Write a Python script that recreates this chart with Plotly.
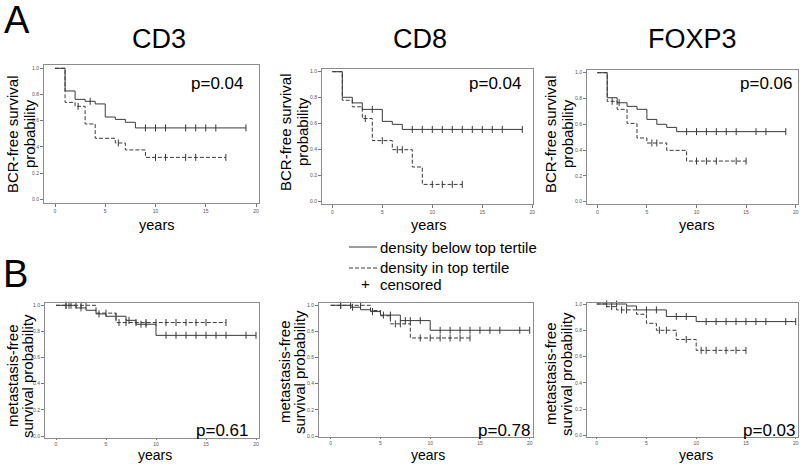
import plotly.graph_objects as go

# ---------------- data ----------------
panel_titles = ["CD3", "CD8", "FOXP3"]
p_values = ["p=0.04", "p=0.04", "p=0.06", "p=0.61", "p=0.78", "p=0.03"]

# BCR-free survival (row A)
cd3_bcr_low_t = [1, 2, 3, 4, 5, 6, 7, 8]
cd3_bcr_low_s = [0.827, 0.763, 0.748, 0.728, 0.628, 0.61, 0.588, 0.545]
cd3_bcr_low_end = 19
cd3_bcr_low_cens = [3.5, 9, 10, 11, 13, 14, 15, 16, 19]
cd3_bcr_high_t = [1, 2, 3, 4, 6, 7, 9]
cd3_bcr_high_s = [0.74, 0.71, 0.575, 0.466, 0.43, 0.377, 0.32]
cd3_bcr_high_end = 17
cd3_bcr_high_cens = [2.3, 6.3, 10, 11, 13, 14, 17]

cd8_bcr_low_t = [1, 2, 3, 5, 6, 7]
cd8_bcr_low_s = [0.803, 0.76, 0.71, 0.618, 0.595, 0.556]
cd8_bcr_low_end = 19
cd8_bcr_low_cens = [4, 8, 9, 10, 11, 12, 13, 14, 15, 16, 17, 19]
cd8_bcr_high_t = [1, 2, 3, 4, 6, 8, 9]
cd8_bcr_high_s = [0.78, 0.73, 0.64, 0.47, 0.40, 0.267, 0.133]
cd8_bcr_high_end = 13
cd8_bcr_high_cens = [3.3, 5, 6.5, 7, 10, 11, 12, 13]

foxp3_bcr_low_t = [1, 2, 3, 4, 5, 6, 7, 8]
foxp3_bcr_low_s = [0.806, 0.767, 0.739, 0.716, 0.638, 0.6, 0.576, 0.543]
foxp3_bcr_low_end = 19
foxp3_bcr_low_cens = [2.2, 9, 10, 11, 12, 13, 14, 16, 17, 19]
foxp3_bcr_high_t = [1, 2, 3, 4, 5, 7, 9]
foxp3_bcr_high_s = [0.778, 0.716, 0.607, 0.494, 0.455, 0.398, 0.315]
foxp3_bcr_high_end = 15
foxp3_bcr_high_cens = [1.5, 5.5, 6, 10, 11, 12, 14, 15]

# metastasis-free survival (row B)
cd3_met_low_t = [2, 3, 4, 5, 7, 8, 10]
cd3_met_low_s = [0.98, 0.962, 0.934, 0.916, 0.885, 0.855, 0.77]
cd3_met_low_end = 20
cd3_met_low_cens = [1, 1.3, 2.5, 4.3, 6, 7.3, 8.5, 9, 11, 12, 13, 14, 15, 16, 17, 19, 20]
cd3_met_high_t = [4, 6]
cd3_met_high_s = [0.94, 0.868]
cd3_met_high_end = 17
cd3_met_high_cens = [1, 1.5, 2, 2.5, 3, 5, 6.3, 7, 8, 9, 10, 11, 12, 13, 14, 15, 17]

cd8_met_low_t = [2, 3, 4, 5, 7, 10]
cd8_met_low_s = [0.985, 0.966, 0.952, 0.925, 0.883, 0.809]
cd8_met_low_end = 20
cd8_met_low_cens = [1, 2.2, 4.2, 5.3, 6, 7.5, 8, 9, 11, 12, 13, 14, 15, 16, 17, 19, 20]
cd8_met_high_t = [4, 5, 6, 8]
cd8_met_high_s = [0.96, 0.92, 0.858, 0.75]
cd8_met_high_end = 14
cd8_met_high_cens = [1, 2, 3, 6.5, 7, 9, 10, 11, 12, 13, 14]

foxp3_met_low_t = [3, 4, 7, 10]
foxp3_met_low_s = [0.985, 0.955, 0.905, 0.866]
foxp3_met_low_end = 20
foxp3_met_low_cens = [1, 2, 5, 6, 8, 9, 11, 12, 13, 14, 15, 16, 17, 19, 20]
foxp3_met_high_t = [1, 2, 4, 5, 6, 8, 10]
foxp3_met_high_s = [0.98, 0.955, 0.922, 0.853, 0.80, 0.73, 0.647]
foxp3_met_high_end = 15
foxp3_met_high_cens = [1.5, 2.5, 3, 6.3, 7, 9, 10.5, 11, 12, 13, 14, 15]

x_ticks = [0, 5, 10, 15, 20]
y_ticks = [0.0, 0.2, 0.4, 0.6, 0.8, 1.0]

panels_data = [
    (cd3_bcr_low_t, cd3_bcr_low_s, cd3_bcr_low_end, cd3_bcr_low_cens,
     cd3_bcr_high_t, cd3_bcr_high_s, cd3_bcr_high_end, cd3_bcr_high_cens),
    (cd8_bcr_low_t, cd8_bcr_low_s, cd8_bcr_low_end, cd8_bcr_low_cens,
     cd8_bcr_high_t, cd8_bcr_high_s, cd8_bcr_high_end, cd8_bcr_high_cens),
    (foxp3_bcr_low_t, foxp3_bcr_low_s, foxp3_bcr_low_end, foxp3_bcr_low_cens,
     foxp3_bcr_high_t, foxp3_bcr_high_s, foxp3_bcr_high_end, foxp3_bcr_high_cens),
    (cd3_met_low_t, cd3_met_low_s, cd3_met_low_end, cd3_met_low_cens,
     cd3_met_high_t, cd3_met_high_s, cd3_met_high_end, cd3_met_high_cens),
    (cd8_met_low_t, cd8_met_low_s, cd8_met_low_end, cd8_met_low_cens,
     cd8_met_high_t, cd8_met_high_s, cd8_met_high_end, cd8_met_high_cens),
    (foxp3_met_low_t, foxp3_met_low_s, foxp3_met_low_end, foxp3_met_low_cens,
     foxp3_met_high_t, foxp3_met_high_s, foxp3_met_high_end, foxp3_met_high_cens),
]

# ---------------- layout geometry (pixels) ----------------
W, H = 800, 464
# frame L, R, T, B ; x=0 pixel, px per year ; y=1 pixel, y=0 pixel
geom = [
    (44, 259, 65, 203, 55.0, 10.05, 68.3, 199.3),
    (322, 533, 69, 204, 332.3, 10.0, 71.7, 201.7),
    (587, 798, 70, 204, 597.3, 9.92, 72.7, 201.7),
    (45, 259, 303, 438, 56.0, 10.0, 305.3, 436.0),
    (319, 533, 303, 437, 330.7, 9.95, 305.3, 436.0),
    (587, 798, 303, 437, 596.7, 9.95, 304.0, 435.3),
]

FONT = "Arial, Liberation Sans, sans-serif"
LINE_C = "#3a3a3a"
FRAME_C = "#8c8c8c"


def step_xy(t, s, end):
    x = [0] + list(t) + [end]
    y = [1.0] + list(s) + [s[-1]]
    return x, y


def surv_at(t, s, c):
    v = 1.0
    for ti, si in zip(t, s):
        if ti <= c:
            v = si
    return v


fig = go.Figure()

for i, (d, g) in enumerate(zip(panels_data, geom)):
    lt, ls, lend, lc, ht, hs, hend, hc = d
    L, R, T, B, x0, ppy, y1, y0 = g
    suffix = "" if i == 0 else str(i + 1)
    xa, ya = "x" + suffix, "y" + suffix
    for (t, s, end, cens, dash) in [(ht, hs, hend, hc, "4px,2px"), (lt, ls, lend, lc, "solid")]:
        x, y = step_xy(t, s, end)
        fig.add_trace(go.Scatter(x=x, y=y, mode="lines", line=dict(shape="hv", color=LINE_C, width=1, dash=dash),
                                 xaxis=xa, yaxis=ya, showlegend=False, hoverinfo="skip", cliponaxis=False))
        fig.add_trace(go.Scatter(x=cens, y=[surv_at(t, s, c) for c in cens], mode="markers",
                                 marker=dict(symbol="line-ns", size=5, line=dict(color=LINE_C, width=1)),
                                 xaxis=xa, yaxis=ya, showlegend=False, hoverinfo="skip", cliponaxis=False))
    unit = y0 - y1
    xr = [(L - x0) / ppy, (R - x0) / ppy]
    yr = [(y0 - B) / unit, (y0 - T) / unit]
    common = dict(showline=True, mirror=True, linecolor=FRAME_C, linewidth=1, showgrid=False, zeroline=False,
                  ticks="outside", tickcolor="#777", tickwidth=1, automargin=False,
                  tickfont=dict(size=5, color="#555", family=FONT))
    fig.layout["xaxis" + suffix] = dict(domain=[L / W, R / W], range=xr, anchor=ya, tickvals=x_ticks,
                                        ticklen=3 if i < 3 else 1, **common)
    fig.layout["yaxis" + suffix] = dict(domain=[1 - B / H, 1 - T / H], range=yr, anchor=xa, tickvals=y_ticks,
                                        tickformat=".1f", ticklen=3, **common)

ann = []


def text(x, y, s, size, angle=0, xanchor="center", yanchor="middle"):
    ann.append(dict(x=x / W, y=1 - y / H, xref="paper", yref="paper", text=s, showarrow=False,
                    font=dict(size=size, color="black", family=FONT), textangle=angle,
                    xanchor=xanchor, yanchor=yanchor, borderpad=0))


text(17, 20, "A", 38)
text(15, 274, "B", 38)
for cx, t in zip([159, 420, 692], panel_titles):
    text(cx, 39, t, 27)

# y-axis titles
for cx1, cx2, cy in [(13, 30, 134), (285, 302, 132), (551, 568, 134)]:
    text(cx1, cy, "BCR-free survival", 15, -90)
    text(cx2, cy, "probability", 15, -90)
for cx1, cx2, cy in [(12, 27, 376), (284, 299, 372), (550, 566, 374)]:
    text(cx1, cy, "metastasis-free", 15, -90)
    text(cx2, cy, "survival probability", 15, -90)

# x-axis titles
for cx, cy in [(156, 225), (428, 225), (696, 225)]:
    text(cx, cy, "years", 14.5)
for cx in [155, 428, 696]:
    text(cx, 464, "years", 14, yanchor="bottom")

# p-values
for (cx, cy), p in zip([(217, 84), (495, 84), (766, 84), (222, 430), (504, 430), (769, 430)], p_values):
    text(cx, cy, p, 17)

# legend
text(379, 247, "density below top tertile", 15, xanchor="left")
text(379, 267, "density in top tertile", 15, xanchor="left")
text(365, 283, "+", 15)
text(379, 284, "censored", 15, xanchor="left")

shapes = [
    dict(type="line", xref="paper", yref="paper", x0=349 / W, x1=377 / W, y0=1 - 247 / H, y1=1 - 247 / H,
         line=dict(color=LINE_C, width=1)),
    dict(type="line", xref="paper", yref="paper", x0=349 / W, x1=377 / W, y0=1 - 268 / H, y1=1 - 268 / H,
         line=dict(color=LINE_C, width=1, dash="4px,2px")),
]

fig.update_layout(width=W, height=H, margin=dict(l=0, r=0, t=0, b=0, autoexpand=False), paper_bgcolor="white",
                  plot_bgcolor="white", annotations=ann, shapes=shapes, showlegend=False)

fig.write_html("out.html", config={"displayModeBar": False},
               post_script="document.body.style.margin='0';document.body.style.overflow='hidden';")
